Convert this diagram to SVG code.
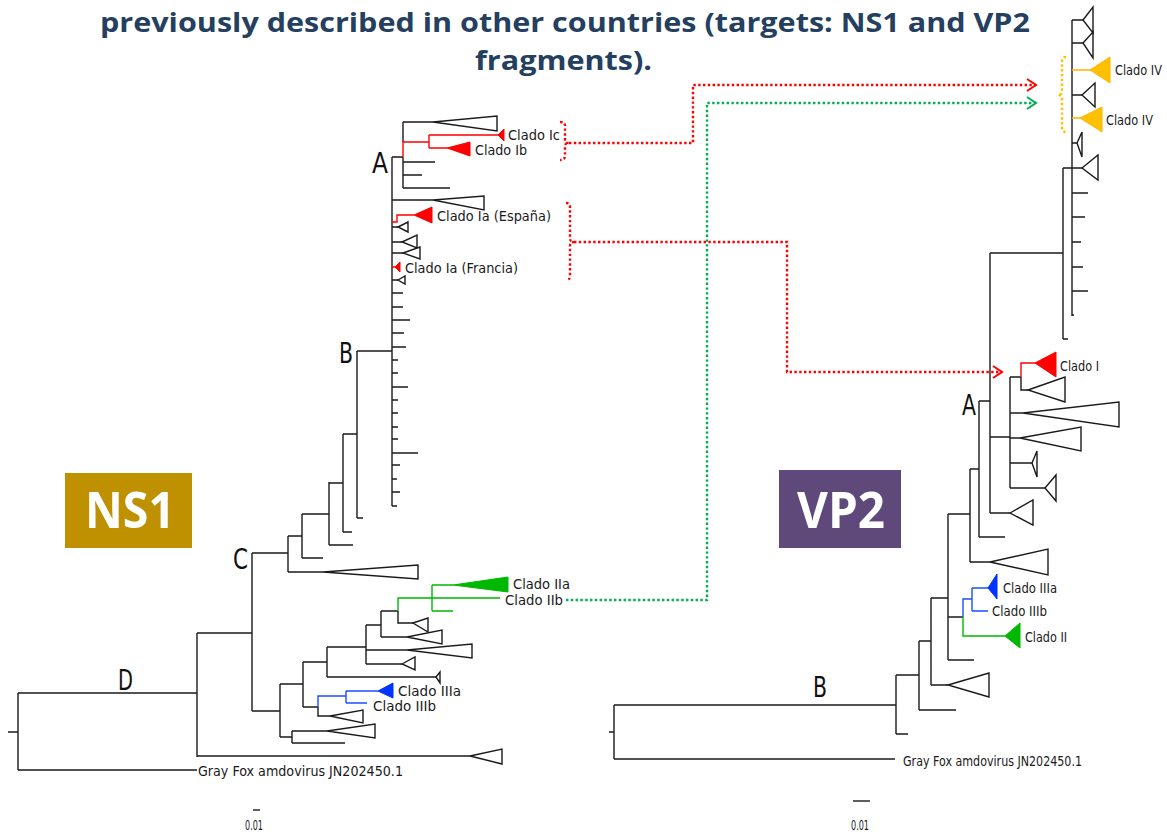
<svg xmlns="http://www.w3.org/2000/svg" width="1167" height="832" viewBox="0 0 1167 832">
<style>
.br{fill:none;stroke:#1a1a1a;stroke-width:1.4}
.tri{fill:#fff;stroke:#1a1a1a;stroke-width:1.4;stroke-linejoin:miter}
.r{fill:none;stroke:#ff0000;stroke-width:1.4}
.g{fill:none;stroke:#00b800;stroke-width:1.4}
.b{fill:none;stroke:#1a4dff;stroke-width:1.4}
.o{fill:none;stroke:#ffb300;stroke-width:1.4}
.rf{fill:#ff0000;stroke:#ff0000;stroke-width:1}
.gf{fill:#00b800;stroke:#00b800;stroke-width:1}
.bf{fill:#0033ff;stroke:#0033ff;stroke-width:1}
.of{fill:#ffc000;stroke:#ffb300;stroke-width:1}
.lbl{font-family:"DejaVu Sans Condensed","DejaVu Sans",sans-serif;font-size:14px;fill:#1a1a1a}
.big{font-family:"DejaVu Sans Condensed","DejaVu Sans",sans-serif;font-size:28px;fill:#111}
.title{font-family:"Open Sans","Liberation Sans",sans-serif;font-weight:bold;font-size:27px;fill:#243f60}
.box{font-family:"Open Sans","Liberation Sans",sans-serif;font-weight:bold;font-size:50px;fill:#fff}
.dot{fill:none;stroke-width:2.4;stroke-dasharray:2.4 2.4}
</style>
<defs>
<marker id="arR" markerUnits="userSpaceOnUse" markerWidth="14" markerHeight="16" refX="11" refY="7" orient="auto"><polyline points="2,1 11,7 2,13" fill="none" stroke="#ff0000" stroke-width="2"/></marker>
<marker id="arG" markerUnits="userSpaceOnUse" markerWidth="14" markerHeight="16" refX="11" refY="7" orient="auto"><polyline points="2,1 11,7 2,13" fill="none" stroke="#00b050" stroke-width="2"/></marker>
</defs>
<rect width="1167" height="832" fill="#fff"/>

<g id="title">
<text class="title" x="100" y="32" textLength="930" lengthAdjust="spacingAndGlyphs">previously described in other countries (targets: NS1 and VP2</text>
<text class="title" x="475" y="70" textLength="177" lengthAdjust="spacingAndGlyphs">fragments).</text>
</g>

<g id="ns1-box">
<rect x="65" y="473" width="127" height="75" fill="#bf9000"/>
<text class="box" x="85" y="528" textLength="90" lengthAdjust="spacingAndGlyphs">NS1</text>
</g>
<g id="vp2-box">
<rect x="779" y="470" width="122" height="78" fill="#5f497a"/>
<text class="box" x="797" y="528" textLength="88" lengthAdjust="spacingAndGlyphs">VP2</text>
</g>

<g id="ns1-tree">
<path class="br" d="M8,732H18M18,693V770M18,693H197M18,770H197M197,633V757M197,633H252M197,756H470M252,553V711M252,553H288M288,536V572M288,536H302M288,572H323M302,514V558M302,558H323M302,514H329M329,482V545M329,545H353M329,483H343M343,434V532M343,532H352M343,434H357M357,351V518M357,518H363M357,351H392M392,157V506M392,157H403M403,122V142M403,157V188M403,122H433M403,162H435M403,175H422M403,188H450M392,200H433M392,227H398M392,242H402M392,253H403M392,280H398M392,293H403M392,307H403M392,320H410M392,333H404M392,347H406M392,360H398M392,373H398M392,387H408M392,400H398M392,413H398M392,427H398M392,439H398M392,453H418M392,465H400M392,479H397M392,492H400M392,506H397"/>
<polygon class="tri" points="470,756 502,749 502,764"/>
<polygon class="tri" points="323,572 418,565 418,579"/>
<polygon class="tri" points="433,122 497,116 497,131"/>
<polygon class="tri" points="433,200 484,196 484,210"/>
<polygon class="tri" points="398,227 408,222 408,232"/>
<polygon class="tri" points="402,242 417,235 417,248"/>
<polygon class="tri" points="403,253 420,247 420,259"/>
<polygon class="tri" points="398,280 405,276 405,284"/>
<g id="ns1-clado-I">
<path class="r" d="M403,157V142H429M429,135V148M429,135H498M429,148H447M392,222H397V215H414M392,267H395"/>
<polygon class="rf" points="498,135 504,129 504,141"/>
<polygon class="rf" points="447,148 470,142 470,156"/>
<polygon class="rf" points="414,215 432,207 432,223"/>
<polygon class="rf" points="395,267 400,262 400,272"/>
<text class="lbl" x="508" y="140" textLength="52" lengthAdjust="spacingAndGlyphs">Clado Ic</text>
<text class="lbl" x="475" y="155" textLength="52" lengthAdjust="spacingAndGlyphs">Clado Ib</text>
<text class="lbl" x="437" y="221" textLength="114" lengthAdjust="spacingAndGlyphs">Clado Ia (España)</text>
<text class="lbl" x="405" y="273" textLength="113" lengthAdjust="spacingAndGlyphs">Clado Ia (Francia)</text>
</g>
<path class="br" d="M252,711H280M280,684V737M280,684H303M303,662V707M303,662H327M327,647V677M327,647H366M366,625V664M366,625H381M381,611V637M381,611H398M398,611V623H413M381,637H407M366,650H407M366,664H402M327,677H436M303,707H318M318,707V716H330M280,737H292M292,731V743M292,731H327M292,743H345"/>
<polygon class="tri" points="413,623 428,618 428,632"/>
<polygon class="tri" points="407,637 442,630 442,644"/>
<polygon class="tri" points="407,650 472,644 472,658"/>
<polygon class="tri" points="402,664 415,657 415,670"/>
<polygon class="tri" points="436,677 440,672 440,683"/>
<polygon class="tri" points="330,716 363,710 363,723"/>
<polygon class="tri" points="327,731 375,724 375,738"/>
<g id="ns1-clado-II">
<path class="g" d="M398,611V598H500M432,585V611M432,585H453M432,611H453"/>
<polygon class="gf" points="453,585 508,577 508,592"/>
<text class="lbl" x="513" y="589" textLength="57" lengthAdjust="spacingAndGlyphs">Clado IIa</text>
<text class="lbl" x="505" y="605" textLength="58" lengthAdjust="spacingAndGlyphs">Clado IIb</text>
</g>
<g id="ns1-clado-III">
<path class="b" d="M318,707V696H346M346,691V703M346,691H378M346,703H367"/>
<polygon class="bf" points="378,691 393,683 393,698"/>
<text class="lbl" x="398" y="696" textLength="63" lengthAdjust="spacingAndGlyphs">Clado IIIa</text>
<text class="lbl" x="373" y="711" textLength="63" lengthAdjust="spacingAndGlyphs">Clado IIIb</text>
</g>
<text class="lbl" x="198" y="776" textLength="205" lengthAdjust="spacingAndGlyphs">Gray Fox amdovirus JN202450.1</text>
<text class="big" x="372" y="173" textLength="16" lengthAdjust="spacingAndGlyphs">A</text>
<text class="big" x="339" y="363" textLength="14" lengthAdjust="spacingAndGlyphs">B</text>
<text class="big" x="233" y="569" textLength="15" lengthAdjust="spacingAndGlyphs">C</text>
<text class="big" x="118" y="690" textLength="15" lengthAdjust="spacingAndGlyphs">D</text>
<g id="ns1-scale">
<path class="br" d="M253,810H260"/>
<text class="lbl" x="245" y="830" font-size="14" textLength="18" lengthAdjust="spacingAndGlyphs">0.01</text>
</g>
</g>

<g id="vp2-tree">
<path class="br" d="M609,732H614M614,705V759M614,705H896M614,759H895M896,675V734M896,734H908M896,675H919M919,641V710M919,710H956M919,641H931M931,598V685M931,685H948M931,598H948M948,514V660M948,660H974M948,617H963M948,514H970M970,469V562M970,562H990M970,469H979M979,401V537M979,537H1005M979,401H990M990,253V513M990,513H1010M990,437H1010M1010,377V488M1010,377H1021M1021,377V390H1028M1010,413H1023M1010,438H1020M1010,463H1032M1010,488H1045M990,253H1063M1063,168V339M1063,339H1068M1063,168H1072M1072,20V316M1072,20H1083M1072,43H1083M1072,95H1082M1072,143H1077M1072,168H1082M1072,193H1088M1072,217H1085M1072,242H1081M1072,267H1083M1072,291H1088M1072,315H1074"/>
<polygon class="tri" points="948,685 989,673 989,697"/>
<polygon class="tri" points="990,562 1048,549 1048,575"/>
<polygon class="tri" points="1010,513 1033,500 1033,525"/>
<polygon class="tri" points="1028,390 1065,377 1065,402"/>
<polygon class="tri" points="1023,413 1119,402 1119,427"/>
<polygon class="tri" points="1020,438 1081,427 1081,451"/>
<polygon class="tri" points="1032,463 1037,451 1037,477"/>
<polygon class="tri" points="1045,488 1056,475 1056,501"/>
<polygon class="tri" points="1083,20 1093,7 1093,33"/>
<polygon class="tri" points="1083,43 1093,32 1093,58"/>
<polygon class="tri" points="1082,95 1095,83 1095,107"/>
<polygon class="tri" points="1077,143 1082,132 1082,157"/>
<polygon class="tri" points="1082,168 1098,155 1098,180"/>
<g id="vp2-clado-IV">
<path class="o" d="M1072,70H1090M1072,118H1080"/>
<polygon class="of" points="1090,70 1110,57 1110,83"/>
<polygon class="of" points="1080,118 1102,107 1102,132"/>
<text class="lbl" x="1115" y="75" textLength="47" lengthAdjust="spacingAndGlyphs">Clado IV</text>
<text class="lbl" x="1106" y="125" textLength="47" lengthAdjust="spacingAndGlyphs">Clado IV</text>
</g>
<g id="vp2-clado-I">
<path class="r" d="M1021,377V363H1035"/>
<polygon class="rf" points="1035,363 1056,352 1056,377"/>
<text class="lbl" x="1060" y="371" textLength="39" lengthAdjust="spacingAndGlyphs">Clado I</text>
</g>
<g id="vp2-clado-III">
<path class="b" d="M963,617V599H972M972,588V611M972,588H988M972,611H988"/>
<polygon class="bf" points="988,588 997,574 997,599"/>
<text class="lbl" x="1003" y="593" textLength="54" lengthAdjust="spacingAndGlyphs">Clado IIIa</text>
<text class="lbl" x="992" y="616" textLength="55" lengthAdjust="spacingAndGlyphs">Clado IIIb</text>
</g>
<g id="vp2-clado-II">
<path class="g" d="M963,617V636H1005"/>
<polygon class="gf" points="1005,636 1020,623 1020,648"/>
<text class="lbl" x="1025" y="642" textLength="42" lengthAdjust="spacingAndGlyphs">Clado II</text>
</g>
<text class="lbl" x="903" y="766" textLength="179" lengthAdjust="spacingAndGlyphs">Gray Fox amdovirus JN202450.1</text>
<text class="big" x="962" y="415" textLength="14" lengthAdjust="spacingAndGlyphs">A</text>
<text class="big" x="813" y="697" textLength="14" lengthAdjust="spacingAndGlyphs">B</text>
<g id="vp2-scale">
<path class="br" d="M853,801H870"/>
<text class="lbl" x="851" y="830" font-size="14" textLength="18" lengthAdjust="spacingAndGlyphs">0.01</text>
</g>
</g>

<g id="connectors">
<path class="dot" stroke="#ff0000" d="M560,122Q565,122 565,126V140Q565,143 569,143Q565,143 565,146V156Q565,160 560,160"/>
<path class="dot" stroke="#ff0000" d="M566,203Q570,203 570,207V238Q570,242 574,242Q570,242 570,246V276Q570,280 566,280"/>
<path class="dot" stroke="#ffc000" d="M1066,57Q1062,57 1062,61V91Q1062,95 1058,95Q1062,95 1062,99V128Q1062,132 1066,132"/>
<path class="dot" stroke="#ff0000" d="M569,143H693V85H1036" marker-end="url(#arR)"/>
<path class="dot" stroke="#00b050" d="M566,600H707V103H1036" marker-end="url(#arG)"/>
<path class="dot" stroke="#ff0000" d="M574,242H787V372H1002" marker-end="url(#arR)"/>
</g>
</svg>
